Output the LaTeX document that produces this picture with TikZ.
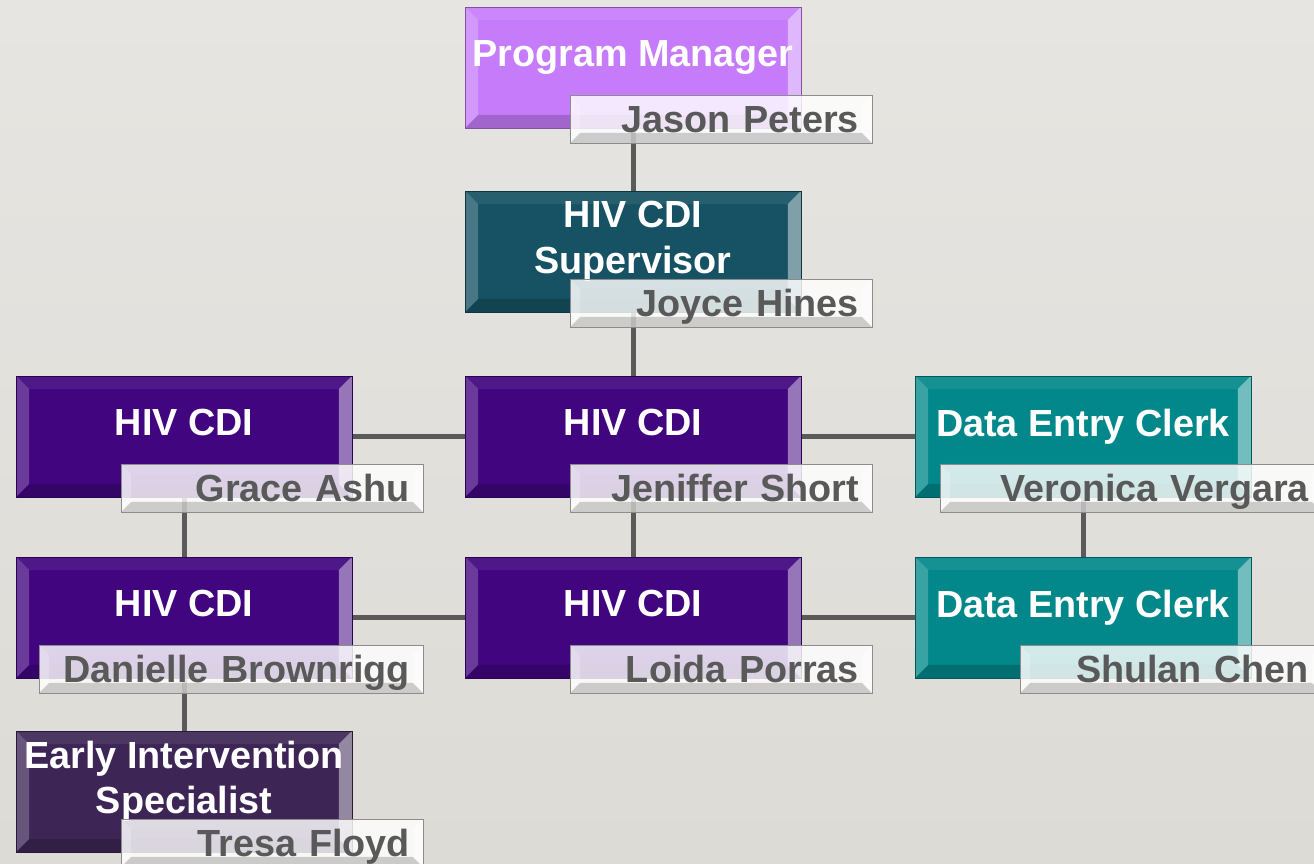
\documentclass[tikz,border=0pt]{standalone}
\usepackage{fontspec}
\setmainfont{Liberation Sans}
\pgfdeclarelayer{back}
\pgfdeclarelayer{links}
\pgfsetlayers{back,links,main}

\definecolor{pmviolet}{RGB}{198,124,250}
\definecolor{supteal}{RGB}{22,82,99}
\definecolor{cdipurple}{RGB}{65,5,128}
\definecolor{clerkteal}{RGB}{2,136,138}
\definecolor{eisplum}{RGB}{61,38,86}
\definecolor{linkgray}{RGB}{90,90,90}
\definecolor{namegray}{RGB}{89,89,89}
\definecolor{nameedge}{RGB}{140,140,140}
\definecolor{slidetop}{RGB}{231,229,225}
\definecolor{slidebot}{RGB}{221,219,214}

\newcommand{\lowstrut}{\rule[-16pt]{0pt}{16pt}}

\tikzset{
  bevel/.style={path picture={
    \coordinate (bsw) at (path picture bounding box.south west);
    \coordinate (bne) at (path picture bounding box.north east);
    \coordinate (bnw) at (bsw|-bne);
    \coordinate (bse) at (bne|-bsw);
    \fill[white,opacity=0.22] (bsw) -- (bnw) -- ([shift={(#1,-#1)}]bnw) -- ([shift={(#1,#1)}]bsw) -- cycle;
    \fill[white,opacity=0.45] (bse) -- (bne) -- ([shift={(-#1,-#1)}]bne) -- ([shift={(-#1,#1)}]bse) -- cycle;
    \fill[white,opacity=0.08] (bnw) -- (bne) -- ([shift={(-#1,-#1)}]bne) -- ([shift={(#1,-#1)}]bnw) -- cycle;
    \fill[black,opacity=0.18] (bsw) -- (bse) -- ([shift={(-#1,#1)}]bse) -- ([shift={(#1,#1)}]bsw) -- cycle;
  }},
  role/.style={rectangle, draw=#1!65!black, fill=#1, text=white, minimum width=6.72cm, minimum height=2.42cm,
    inner xsep=0pt, inner ysep=0pt, align=center, font=\bfseries\fontsize{21.5}{26}\selectfont, bevel=0.26cm},
  person/.style={rectangle, draw=nameedge, fill=white, fill opacity=0.82, text opacity=1, text=namegray,
    minimum width=#1, minimum height=0.96cm, text width=#1-0.52cm, inner xsep=0.26cm, inner ysep=2pt,
    align=right, text height=15.4pt, text depth=0pt, font=\bfseries\fontsize{21.5}{26}\selectfont,
    anchor=south east, bevel=0.2cm},
  person/.default=6.04cm,
  link/.style={linkgray, line width=0.1cm}
}

\begin{document}
\begin{tikzpicture}[x=0.02cm, y=-0.02cm]
  \useasboundingbox (0,0) rectangle (1314,864);
  \clip (0,0) rectangle (1314,864);
  \begin{pgfonlayer}{back}
    \shade[top color=slidetop, bottom color=slidebot] (0,0) rectangle (1314,864);
  \end{pgfonlayer}

  % Program Manager
  \node[role=pmviolet] (pm) at (633,67.5) {Program Manager\lowstrut};
  \node[person] (jason) at ([shift={(1.42cm,-0.3cm)}]pm.south east) {Jason Peters};

  % Supervisor
  \node[role=supteal] (sup) at (633,251.5) {HIV CDI\\Supervisor\lowstrut};
  \node[person] (joyce) at ([shift={(1.42cm,-0.3cm)}]sup.south east) {Joyce Hines};

  % HIV CDI row 1
  \node[role=cdipurple] (hivA) at (184,436.5) {HIV CDI\lowstrut};
  \node[person] (grace) at ([shift={(1.42cm,-0.3cm)}]hivA.south east) {Grace Ashu};
  \node[role=cdipurple] (hivB) at (633,436.5) {HIV CDI\lowstrut};
  \node[person] (jeniffer) at ([shift={(1.42cm,-0.3cm)}]hivB.south east) {Jeniffer Short};
  \node[role=clerkteal] (decA) at (1083,436.5) {Data Entry Clerk\lowstrut};
  \node[person=7.64cm] (veronica) at ([shift={(1.42cm,-0.3cm)}]decA.south east) {Veronica Vergara};

  % HIV CDI row 2
  \node[role=cdipurple] (hivC) at (184,617.5) {HIV CDI\lowstrut};
  \node[person=7.68cm] (danielle) at ([shift={(1.42cm,-0.3cm)}]hivC.south east) {Danielle Brownrigg};
  \node[role=cdipurple] (hivD) at (633,617.5) {HIV CDI\lowstrut};
  \node[person] (loida) at ([shift={(1.42cm,-0.3cm)}]hivD.south east) {Loida Porras};
  \node[role=clerkteal] (decB) at (1083,617.5) {Data Entry Clerk\lowstrut};
  \node[person] (shulan) at ([shift={(1.42cm,-0.3cm)}]decB.south east) {Shulan Chen};

  % Early Intervention
  \node[role=eisplum] (eis) at (184,791.5) {Early Intervention\\Specialist\lowstrut};
  \node[person] (tresa) at ([shift={(1.42cm,-0.3cm)}]eis.south east) {Tresa Floyd};

  % Connections
  \begin{pgfonlayer}{links}
    \foreach \a/\b in {pm/sup, sup/hivB, hivA/hivB, hivB/decA, hivA/hivC, hivB/hivD, decA/decB, hivC/hivD, hivD/decB, hivC/eis} {
      \draw[link] (\a) -- (\b);
    }
  \end{pgfonlayer}
\end{tikzpicture}
\end{document}
